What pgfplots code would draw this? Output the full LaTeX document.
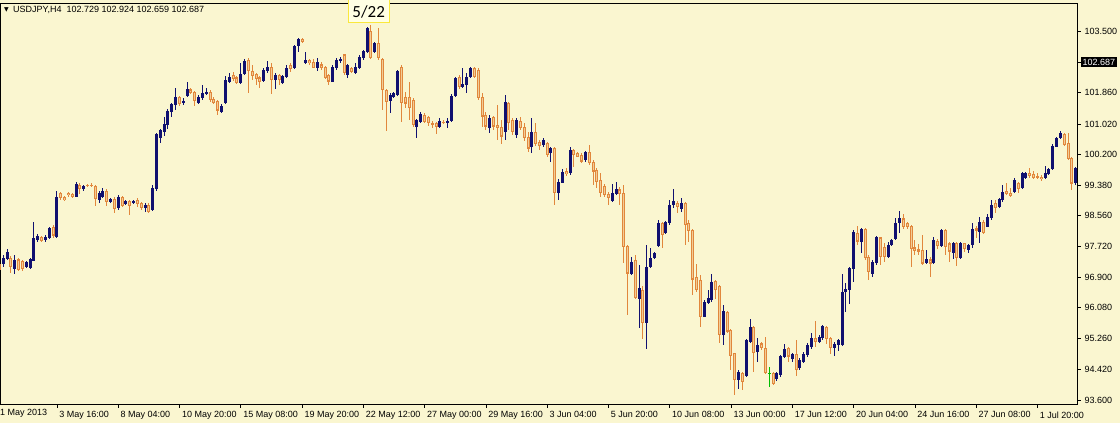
\documentclass[border=0pt]{standalone}
\usepackage{pgfplots}
\pgfplotsset{compat=1.18}
\usepackage{pgfplotstable}
\usetikzlibrary{backgrounds}
\usepackage{fontspec}
\setmainfont{Liberation Sans}
\newfontfamily\carlito{Carlito}
\newfontfamily\dejavu{DejaVu Sans}

\definecolor{bgc}{RGB}{250,246,208}
\definecolor{bullc}{RGB}{16,16,112}
\definecolor{bearc}{RGB}{225,135,60}
\definecolor{bearin}{RGB}{242,205,150}
\definecolor{dojic}{RGB}{0,190,0}
\definecolor{boxline}{RGB}{250,232,60}
\definecolor{boxfill}{RGB}{255,255,228}

% bar index k (H4 bars, k=-2 is 1 May 00:00), open high low close
\pgfplotstableread{
k o h l c
0 97.26 97.50 97.18 97.43
1 97.38 97.67 97.35 97.59
3 97.11 97.50 97.00 97.36
6 97.18 97.34 97.15 97.32
7 97.14 97.41 97.11 97.38
8 97.35 98.39 97.33 97.95
9 97.90 98.05 97.86 98.01
11 97.90 98.03 97.86 97.99
12 97.95 98.26 97.92 98.22
14 97.99 99.23 97.95 99.07
19 99.07 99.46 99.05 99.41
21 99.26 99.38 99.23 99.35
25 98.99 99.23 98.89 99.16
26 99.07 99.29 99.02 99.21
28 98.93 99.04 98.90 99.01
30 98.75 99.10 98.72 99.07
32 98.87 98.99 98.84 98.96
34 98.89 98.99 98.86 98.96
37 98.75 98.89 98.66 98.84
39 98.71 99.38 98.69 99.29
40 99.27 100.79 99.23 100.75
41 100.63 100.88 100.50 100.86
42 100.81 101.22 100.70 101.02
43 100.99 101.41 100.88 101.38
44 101.35 101.59 101.20 101.56
45 101.53 101.98 101.40 101.74
47 101.59 101.71 101.53 101.63
48 101.77 102.16 101.75 101.95
51 101.59 101.80 101.56 101.75
52 101.71 102.07 101.67 101.84
53 101.84 101.98 101.80 101.88
57 101.35 101.56 101.32 101.50
58 101.58 102.31 101.56 102.20
59 102.16 102.38 102.11 102.29
62 102.11 102.65 102.09 102.36
63 102.36 102.76 102.34 102.72
68 102.18 102.52 102.16 102.47
69 102.43 102.70 102.40 102.56
71 102.20 102.38 101.96 102.35
73 102.11 102.35 102.09 102.32
74 102.29 102.60 102.25 102.53
76 102.52 103.14 102.50 103.12
77 103.12 103.32 102.96 103.30
79 102.65 102.95 102.62 102.74
82 102.52 102.78 102.43 102.69
86 102.16 102.61 102.14 102.56
87 102.52 102.78 102.47 102.74
88 102.70 102.83 102.66 102.78
90 102.34 102.62 102.25 102.61
92 102.38 102.65 102.35 102.56
93 102.52 102.87 102.50 102.83
94 102.78 103.01 102.74 102.98
95 102.96 103.64 102.92 103.59
97 102.96 103.22 102.92 103.19
101 101.64 101.84 101.31 101.80
102 101.75 101.87 101.72 101.84
103 101.80 102.47 101.78 102.44
108 100.95 101.15 100.63 101.13
109 101.08 101.33 101.04 101.28
114 100.95 101.17 100.92 101.10
116 101.04 101.17 100.90 101.10
117 101.10 101.82 101.08 101.78
118 101.78 102.29 101.75 102.26
120 102.02 102.52 101.98 102.09
121 102.07 102.38 101.84 102.29
122 102.29 102.56 102.25 102.53
127 100.90 101.26 100.79 101.17
131 100.81 101.80 100.59 101.62
134 100.72 101.17 100.65 101.13
138 100.41 101.17 100.23 100.81
141 100.45 100.63 100.41 100.59
143 100.23 100.41 100.00 100.37
145 99.16 99.53 98.98 99.47
146 99.44 99.80 99.42 99.74
148 99.69 100.39 99.65 100.32
152 100.05 100.30 100.01 100.27
159 98.96 99.42 98.93 99.17
160 99.14 99.47 99.11 99.26
164 97.00 97.45 96.96 97.32
166 96.31 97.23 95.53 96.60
168 95.66 97.77 94.96 97.18
169 97.18 97.68 97.14 97.41
170 97.41 97.57 97.38 97.54
171 97.74 98.44 97.72 98.37
173 98.10 98.42 98.06 98.39
174 98.35 98.98 98.30 98.84
175 98.84 99.26 98.75 98.96
177 98.73 99.02 98.66 98.90
183 95.84 96.29 95.82 96.24
184 96.22 96.56 96.18 96.33
185 96.29 96.99 96.24 96.78
188 95.35 96.15 95.08 95.98
192 94.14 94.41 93.91 94.36
194 94.25 95.23 94.23 95.21
195 95.17 95.77 95.14 95.57
197 94.90 95.26 94.63 95.08
202 94.16 94.36 94.12 94.32
203 94.27 94.81 94.23 94.78
204 94.77 95.10 94.72 94.96
206 94.69 94.87 94.63 94.85
208 94.45 94.72 94.42 94.68
209 94.63 94.90 94.59 94.85
210 94.81 95.14 94.76 95.08
211 95.03 95.39 94.96 95.28
213 95.17 95.35 95.12 95.30
214 95.26 95.62 95.21 95.59
217 94.99 95.17 94.78 95.11
218 95.08 95.23 94.93 95.21
219 95.08 97.00 95.05 96.51
220 96.51 96.74 95.97 96.58
221 96.56 97.18 96.18 97.14
222 97.11 98.17 96.78 98.12
224 97.86 98.22 97.54 98.19
227 97.00 97.36 96.90 97.32
228 97.27 98.01 97.23 97.97
231 97.45 97.86 97.41 97.77
232 97.77 97.92 97.74 97.90
233 97.92 98.48 97.90 98.37
234 98.35 98.69 98.10 98.48
241 97.29 97.63 97.26 97.38
243 97.29 97.99 97.26 97.90
245 97.74 98.21 97.72 98.17
248 97.54 97.86 97.38 97.81
250 97.41 97.86 97.38 97.81
252 97.63 97.79 97.54 97.76
253 97.76 98.37 97.68 98.19
255 98.12 98.53 97.81 98.39
257 98.26 98.60 98.24 98.53
258 98.48 98.98 98.44 98.84
260 98.78 99.02 98.75 98.99
261 98.98 99.38 98.93 99.20
264 99.20 99.56 99.16 99.51
266 99.29 99.74 99.26 99.71
267 99.58 99.74 99.53 99.69
272 99.56 99.89 99.53 99.69
273 99.67 99.83 99.65 99.80
274 99.80 100.48 99.78 100.43
275 100.41 100.68 100.39 100.63
276 100.63 100.84 100.61 100.77
280 99.42 99.87 99.38 99.83
}\bull

\pgfplotstableread{
k o h l c
-1 97.27 97.36 97.05 97.09
2 97.43 97.47 97.02 97.18
4 97.38 97.41 97.08 97.09
5 97.34 97.36 97.07 97.11
10 97.99 98.02 97.84 97.88
13 98.24 98.30 97.95 98.02
15 99.16 99.20 98.98 99.02
16 99.05 99.08 98.95 98.98
17 99.17 99.20 99.07 99.10
18 99.14 99.17 99.04 99.07
20 99.37 99.44 99.15 99.26
22 99.39 99.41 99.33 99.35
23 99.39 99.42 99.32 99.35
24 99.35 99.37 98.81 98.99
27 99.23 99.26 98.81 98.93
29 99.01 99.07 98.62 98.73
31 99.05 99.08 98.78 98.81
33 98.96 98.98 98.57 98.81
35 98.98 99.02 98.80 98.87
36 98.89 98.93 98.71 98.75
38 98.84 98.89 98.64 98.66
46 101.74 101.77 101.50 101.56
49 101.95 101.98 101.83 101.86
50 101.88 101.92 101.50 101.63
54 101.88 101.92 101.62 101.66
55 101.70 101.74 101.56 101.59
56 101.63 101.66 101.26 101.38
60 102.34 102.43 102.18 102.22
61 102.27 102.31 102.10 102.13
64 102.74 102.78 101.86 102.43
65 102.45 102.61 102.20 102.31
66 102.36 102.40 102.07 102.22
67 102.27 102.31 101.98 102.16
70 102.56 102.65 101.82 102.20
72 102.34 102.35 102.07 102.20
75 102.61 102.65 102.43 102.50
78 103.30 103.34 103.20 103.23
80 102.74 102.77 102.61 102.65
81 102.69 102.77 102.52 102.53
83 102.62 102.69 102.47 102.52
84 102.56 102.59 102.23 102.25
85 102.34 102.35 102.07 102.16
89 102.89 102.91 102.35 102.38
91 102.53 102.56 102.38 102.41
96 103.52 103.68 102.76 102.78
98 103.19 103.59 102.74 102.78
99 102.78 102.80 101.40 101.93
100 101.93 101.96 100.83 101.62
104 102.56 102.61 101.08 101.57
105 101.75 101.89 101.44 101.57
106 101.75 102.14 101.13 101.44
107 101.66 101.71 100.95 100.99
110 101.26 101.31 101.04 101.08
111 101.22 101.24 100.97 101.04
112 101.04 101.10 100.92 100.99
113 101.04 101.08 100.74 100.95
115 101.08 101.12 101.02 101.05
119 102.29 102.34 101.95 102.02
123 102.53 102.56 102.25 102.29
124 102.47 102.52 101.66 101.71
125 101.75 101.84 100.95 101.22
126 101.26 101.35 100.86 100.95
128 101.22 101.24 100.86 100.95
129 100.99 101.53 100.59 100.92
130 100.95 101.13 100.47 100.68
132 101.58 101.62 100.86 101.04
133 101.13 101.17 100.72 100.81
135 101.10 101.22 100.86 100.92
136 100.95 101.04 100.56 100.63
137 100.68 100.81 100.27 100.36
139 100.81 101.04 100.44 100.47
140 100.53 100.59 100.32 100.44
142 100.50 100.54 100.14 100.19
144 100.37 100.41 98.84 99.16
147 99.76 99.83 99.62 99.67
149 100.32 100.34 99.87 100.19
150 100.23 100.27 100.12 100.14
151 100.19 100.23 99.96 100.01
153 100.27 100.45 99.92 99.96
154 100.01 100.05 99.38 99.74
155 99.78 99.83 99.29 99.47
156 99.51 99.69 99.07 99.16
157 99.35 99.41 99.05 99.11
158 99.14 99.20 98.84 99.02
161 99.26 99.33 98.84 99.14
162 99.16 99.38 97.27 97.72
163 97.74 97.77 95.89 97.00
165 97.36 97.50 96.31 96.33
167 96.56 96.66 95.23 95.66
172 98.35 98.39 97.68 98.04
176 98.90 98.96 98.62 98.78
178 98.90 98.93 97.77 98.30
179 98.35 98.44 97.86 98.15
180 98.17 98.21 96.42 96.84
181 96.92 97.27 96.51 96.56
182 96.83 96.96 95.57 95.84
186 96.81 96.84 96.31 96.56
187 96.66 96.69 95.12 95.35
189 95.98 96.00 95.41 95.44
190 95.48 95.50 94.41 94.78
191 94.86 94.87 93.74 94.14
193 94.32 94.36 93.87 94.09
196 95.57 95.59 94.36 94.87
198 95.12 95.17 94.94 94.99
199 94.99 95.30 94.29 94.32
201 94.32 94.36 94.00 94.03
205 94.99 95.03 94.63 94.77
207 94.85 95.21 94.25 94.41
212 95.26 95.73 95.03 95.17
215 95.57 95.59 95.12 95.23
216 95.26 95.30 94.84 94.99
223 98.10 98.28 97.77 97.86
225 98.19 98.22 97.36 97.41
226 97.45 97.50 96.83 97.05
229 97.97 97.99 97.23 97.45
230 97.72 97.83 97.32 97.45
235 98.48 98.60 98.19 98.24
236 98.35 98.39 98.19 98.24
237 98.28 98.30 97.18 97.65
238 97.70 97.90 97.50 97.61
239 97.65 97.79 97.50 97.59
240 97.63 98.04 97.23 97.27
242 97.38 97.45 96.90 97.27
244 97.88 97.92 97.65 97.74
246 98.17 98.19 97.50 97.72
247 97.81 97.86 97.32 97.59
249 97.83 97.86 97.20 97.41
251 97.81 97.83 97.59 97.65
254 98.21 98.28 97.95 98.15
256 98.39 98.44 98.06 98.10
259 98.89 98.98 98.64 98.75
262 99.23 99.42 99.11 99.15
263 99.17 99.29 99.05 99.08
265 99.44 99.47 99.16 99.26
268 99.71 99.83 99.58 99.62
269 99.67 99.76 99.53 99.58
270 99.62 99.69 99.53 99.56
271 99.60 99.65 99.50 99.53
277 100.75 100.79 100.43 100.45
278 100.50 100.77 100.05 100.07
279 100.10 100.14 99.24 99.42
}\bear

\pgfplotstableread{
k o h l c
200 94.32 94.50 93.96 94.32
}\doji

\pgfplotsset{
  wick/.style={draw=none, mark=none,
    error bars/.cd, y dir=both, y explicit, error mark=none,
    error bar style={draw=#1, line width=1pt}},
  body/.style 2 args={draw=none, mark=none,
    error bars/.cd, y dir=both, y explicit, error mark=none,
    error bar style={draw=#1, line width=#2}},
}

\begin{document}
\begin{tikzpicture}[x=1pt,y=1pt]
\begin{axis}[
  width=1077pt, height=401pt, scale only axis,
  xmin=-0.86, xmax=280.34, ymin=93.493, ymax=104.271,
  axis background/.style={fill=bgc},
  axis line style={black, line width=0.8pt},
  tick style={black, line width=0.6pt},
  major tick length=4pt,
  tick align=outside,
  xtick pos=bottom, ytick pos=right, yticklabel pos=right,
  ticklabel style={font=\fontsize{9}{10}\selectfont},
  xtick={14,30,...,270},
  xticklabels={3 May 16:00,8 May 04:00,10 May 20:00,15 May 08:00,19 May 20:00,22 May 12:00,27 May 00:00,29 May 16:00,3 Jun 04:00,5 Jun 20:00,10 Jun 08:00,13 Jun 00:00,17 Jun 12:00,20 Jun 04:00,24 Jun 16:00,27 Jun 08:00,1 Jul 20:00},
  xticklabel style={anchor=north west, xshift=-1pt},
  ytick={93.6,94.42,95.26,96.08,96.9,97.72,98.56,99.38,100.2,101.02,101.86,103.5},
  yticklabels={93.600,94.420,95.260,96.080,96.900,97.720,98.560,99.380,100.200,101.020,101.860,103.500},
  yticklabel style={anchor=west},
  extra y ticks={102.687},
  extra y tick labels={102.687},
  extra y tick style={yticklabel style={fill=black, text=white, inner sep=1.5pt}},
]
% wicks
\addplot[wick=bullc] table[x=k, y expr={(\thisrow{h}+\thisrow{l})/2}, y error expr={(\thisrow{h}-\thisrow{l})/2}] {\bull};
\addplot[wick=bearc] table[x=k, y expr={(\thisrow{h}+\thisrow{l})/2}, y error expr={(\thisrow{h}-\thisrow{l})/2}] {\bear};
\addplot[wick=dojic] table[x=k, y expr={(\thisrow{h}+\thisrow{l})/2}, y error expr={(\thisrow{h}-\thisrow{l})/2}] {\doji};
% bodies
\addplot[body={bullc}{3pt}] table[x=k, y expr={(\thisrow{o}+\thisrow{c})/2}, y error expr={max(abs(\thisrow{c}-\thisrow{o})/2,0.014)}] {\bull};
\addplot[body={bearc}{3pt}] table[x=k, y expr={(\thisrow{o}+\thisrow{c})/2}, y error expr={max(abs(\thisrow{c}-\thisrow{o})/2,0.014)}] {\bear};
\addplot[body={bearin}{1pt}] table[x=k, y expr={(\thisrow{o}+\thisrow{c})/2}, y error expr={max(abs(\thisrow{c}-\thisrow{o})/2-0.03,0)}] {\bear};
\addplot[body={dojic}{3pt}] table[x=k, y expr={(\thisrow{o}+\thisrow{c})/2}, y error expr={0.014}] {\doji};
\coordinate (sw) at (rel axis cs:0,0);
\end{axis}
\pgfresetboundingbox
\begin{scope}[shift={(sw)}, yshift=-19pt]
  \path[use as bounding box] (0,0) rectangle (1120,423);
  \begin{scope}[on background layer]
    \fill[bgc] (0,0) rectangle (1120,423);
  \end{scope}
  \node[anchor=north west, font=\fontsize{9}{10}\selectfont, inner sep=0pt] at (0,14) {1 May 2013};
  \node[anchor=west, inner sep=0pt] at (4,413) {\dejavu\fontsize{6}{7}\selectfont ▼};
  \node[anchor=west, inner sep=0pt, font=\fontsize{9}{10}\selectfont] at (13,413) {USDJPY,H4\ \ 102.729 102.924 102.659 102.687};
  \draw[draw=boxline, fill=boxfill, line width=1pt] (348.5,400.5) rectangle (389,425);
  \node[font=\carlito\fontsize{17}{18}\selectfont, inner sep=0pt] at (368.7,411.5) {5/22};
\end{scope}
\end{tikzpicture}
\end{document}
